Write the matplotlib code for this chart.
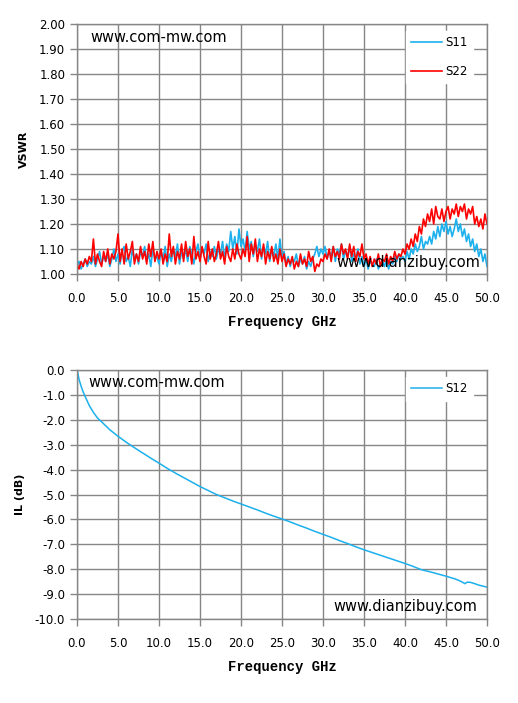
import numpy as np
import matplotlib
matplotlib.use("Agg")
import matplotlib.pyplot as plt

# VSWR data, 0 to 50 GHz in 0.25 GHz steps
vswr_freq = np.arange(0, 50.01, 0.25)
s22 = [
    1.04, 1.02, 1.05, 1.03, 1.06, 1.04, 1.07, 1.05, 1.14, 1.04, 1.08, 1.05, 1.03, 1.09, 1.05, 1.10, 1.04, 1.08, 1.06, 1.09,
    1.16, 1.05, 1.10, 1.04, 1.12, 1.06, 1.09, 1.13, 1.04, 1.08, 1.05, 1.11, 1.06, 1.09, 1.04, 1.12, 1.07, 1.13, 1.05, 1.09,
    1.06, 1.10, 1.04, 1.08, 1.05, 1.16, 1.07, 1.11, 1.04, 1.09, 1.06, 1.12, 1.05, 1.13, 1.07, 1.10, 1.04, 1.15, 1.06, 1.09,
    1.05, 1.11, 1.07, 1.04, 1.13, 1.06, 1.10, 1.05, 1.08, 1.13, 1.06, 1.09, 1.04, 1.11, 1.07, 1.05, 1.10, 1.06, 1.12, 1.08,
    1.06, 1.10, 1.07, 1.15, 1.05, 1.12, 1.08, 1.14, 1.05, 1.10, 1.07, 1.12, 1.04, 1.09, 1.06, 1.11, 1.05, 1.08, 1.04, 1.10,
    1.05, 1.08, 1.03, 1.06, 1.04, 1.07, 1.02, 1.05, 1.03, 1.08, 1.04, 1.06, 1.03, 1.09, 1.05, 1.07, 1.01, 1.04, 1.03, 1.06,
    1.05, 1.08, 1.06, 1.10, 1.05, 1.11, 1.07, 1.09, 1.06, 1.12, 1.08, 1.10, 1.06, 1.12, 1.07, 1.11, 1.05, 1.09, 1.07, 1.12,
    1.06, 1.08, 1.04, 1.07, 1.03, 1.06, 1.04, 1.08, 1.03, 1.06, 1.05, 1.08, 1.04, 1.07, 1.05, 1.09, 1.06, 1.08, 1.07, 1.10,
    1.08, 1.12, 1.10, 1.14, 1.11, 1.16, 1.13, 1.19, 1.16, 1.22, 1.19, 1.24, 1.21, 1.26, 1.20, 1.27, 1.23, 1.22, 1.26, 1.21,
    1.25, 1.27, 1.22, 1.26, 1.24, 1.28, 1.23, 1.27, 1.25, 1.28, 1.22, 1.26, 1.24, 1.27, 1.20, 1.23, 1.19, 1.22, 1.18, 1.24,
    1.20,
]
s11 = [
    1.03, 1.05, 1.02, 1.04, 1.06, 1.03, 1.05, 1.04, 1.07, 1.03, 1.06, 1.09, 1.04, 1.07, 1.05, 1.08, 1.03, 1.06, 1.10, 1.05,
    1.08, 1.04, 1.09, 1.11, 1.05, 1.07, 1.03, 1.10, 1.06, 1.08, 1.04, 1.09, 1.07, 1.11, 1.05, 1.08, 1.03, 1.10, 1.06, 1.07,
    1.04, 1.09, 1.06, 1.11, 1.03, 1.08, 1.05, 1.10, 1.07, 1.12, 1.04, 1.09, 1.06, 1.10, 1.05, 1.11, 1.08, 1.04, 1.09, 1.12,
    1.06, 1.10, 1.08, 1.12, 1.05, 1.09, 1.07, 1.11, 1.06, 1.10, 1.08, 1.13, 1.06, 1.12, 1.09, 1.17, 1.10, 1.15, 1.08, 1.18,
    1.11, 1.14, 1.09, 1.17, 1.10, 1.13, 1.07, 1.12, 1.09, 1.14, 1.06, 1.11, 1.08, 1.13, 1.05, 1.10, 1.07, 1.12, 1.06, 1.14,
    1.06, 1.09, 1.04, 1.07, 1.03, 1.06, 1.05, 1.08, 1.03, 1.06, 1.04, 1.07, 1.02, 1.05, 1.03, 1.06, 1.08, 1.11, 1.07, 1.10,
    1.08, 1.11, 1.06, 1.09, 1.07, 1.11, 1.05, 1.10, 1.08, 1.12, 1.06, 1.09, 1.07, 1.11, 1.05, 1.08, 1.06, 1.10, 1.04, 1.07,
    1.03, 1.06, 1.02, 1.05, 1.04, 1.03, 1.06, 1.02, 1.04, 1.05, 1.03, 1.06, 1.02, 1.05, 1.04, 1.07, 1.05, 1.08, 1.06, 1.07,
    1.05, 1.09, 1.06, 1.10, 1.08, 1.12, 1.09, 1.11, 1.15, 1.10, 1.13, 1.12, 1.15, 1.12, 1.17, 1.14, 1.19, 1.15, 1.20, 1.17,
    1.21, 1.16, 1.19, 1.15, 1.18, 1.22, 1.17, 1.20, 1.15, 1.18, 1.13, 1.16, 1.11, 1.14, 1.09, 1.12, 1.07, 1.10, 1.05, 1.08,
    1.03,
]

# insertion loss
il_freq = [0, 0.1, 0.25, 0.5, 0.75, 1, 1.5, 2, 2.5, 3, 4, 5, 6, 7, 8, 9, 10, 11, 12, 13, 14, 15,
           16, 17, 18, 19, 20, 21, 22, 23, 24, 25, 26, 27, 28, 29, 30, 31, 32, 33, 34, 35, 36,
           37, 38, 39, 40, 41, 42, 43, 44, 45, 46, 46.5, 47, 47.3, 47.6, 48, 48.5, 49, 49.5, 50]
s12 = [0.0, -0.12, -0.38, -0.65, -0.88, -1.07, -1.43, -1.70, -1.93, -2.08, -2.40, -2.66, -2.90,
       -3.12, -3.33, -3.54, -3.74, -3.95, -4.14, -4.32, -4.50, -4.68, -4.84, -5.00, -5.13, -5.26,
       -5.38, -5.50, -5.62, -5.75, -5.87, -5.98, -6.10, -6.23, -6.35, -6.48, -6.60, -6.72, -6.85,
       -6.97, -7.10, -7.22, -7.33, -7.44, -7.55, -7.66, -7.77, -7.89, -8.02, -8.10, -8.19, -8.28,
       -8.38, -8.44, -8.52, -8.58, -8.52, -8.53, -8.58, -8.64, -8.68, -8.72]

BLUE = "#1CB0EC"
RED = "#FF0000"
GRID = "#868686"

plt.rcParams["font.family"] = "DejaVu Sans"

fig = plt.figure(figsize=(5.18, 7.03), dpi=100)
ax1 = fig.add_axes([77 / 518, 1 - 274 / 703, 410 / 518, 250 / 703])
ax2 = fig.add_axes([77 / 518, 1 - 619 / 703, 410 / 518, 249 / 703])


def style_axes(ax, yticks, yfmt, ylabel):
    ax.set_xlim(0, 50)
    ax.set_xticks(np.arange(0, 50.1, 5))
    ax.set_xticklabels([f"{v:.1f}" for v in np.arange(0, 50.1, 5)])
    ax.set_ylim(yticks[0], yticks[-1])
    ax.set_yticks(yticks)
    ax.set_yticklabels([yfmt.format(v) for v in yticks])
    ax.grid(True, color=GRID, lw=1)
    ax.set_axisbelow(True)
    for sp in ax.spines.values():
        sp.set_color(GRID)
        sp.set_linewidth(1)
    ax.tick_params(direction="out", color=GRID, length=5, width=1,
                   labelsize=8.5, labelcolor="black")
    ax.tick_params(axis="x", pad=8)
    ax.set_xlabel("Frequency GHz", family="Liberation Mono", weight="bold",
                  fontsize=10, labelpad=7)
    ax.set_ylabel(ylabel, weight="bold", fontsize=8, labelpad=7)


style_axes(ax1, np.round(np.arange(1.0, 2.001, 0.1), 2), "{:.2f}", "VSWR")
style_axes(ax2, np.arange(-10, 0.01, 1.0), "{:.1f}", "IL (dB)")

ax1.plot(vswr_freq, s11, color=BLUE, lw=1.2, label="S11")
ax1.plot(vswr_freq, s22, color=RED, lw=1.2, label="S22")
ax2.plot(il_freq, s12, color=BLUE, lw=1.1, label="S12")

for ax in (ax1, ax2):
    ax.legend(loc="upper left", bbox_to_anchor=(0.787, 0.995), fontsize=8.5,
              frameon=True, fancybox=False, facecolor="white", edgecolor="white",
              framealpha=1, handlelength=2.6, handletextpad=0.3,
              labelspacing=1.3, borderpad=0.45)

ax1.text(0.032, 0.945, "www.com-mw.com", transform=ax1.transAxes, fontsize=10.5,
         va="center", ha="left")
ax1.text(0.633, 0.045, "www.dianzibuy.com", transform=ax1.transAxes, fontsize=10.5,
         va="center", ha="left")
ax2.text(0.027, 0.95, "www.com-mw.com", transform=ax2.transAxes, fontsize=10.5,
         va="center", ha="left")
ax2.text(0.625, 0.05, "www.dianzibuy.com", transform=ax2.transAxes, fontsize=10.5,
         va="center", ha="left")

fig.savefig("out.png", dpi=100)
